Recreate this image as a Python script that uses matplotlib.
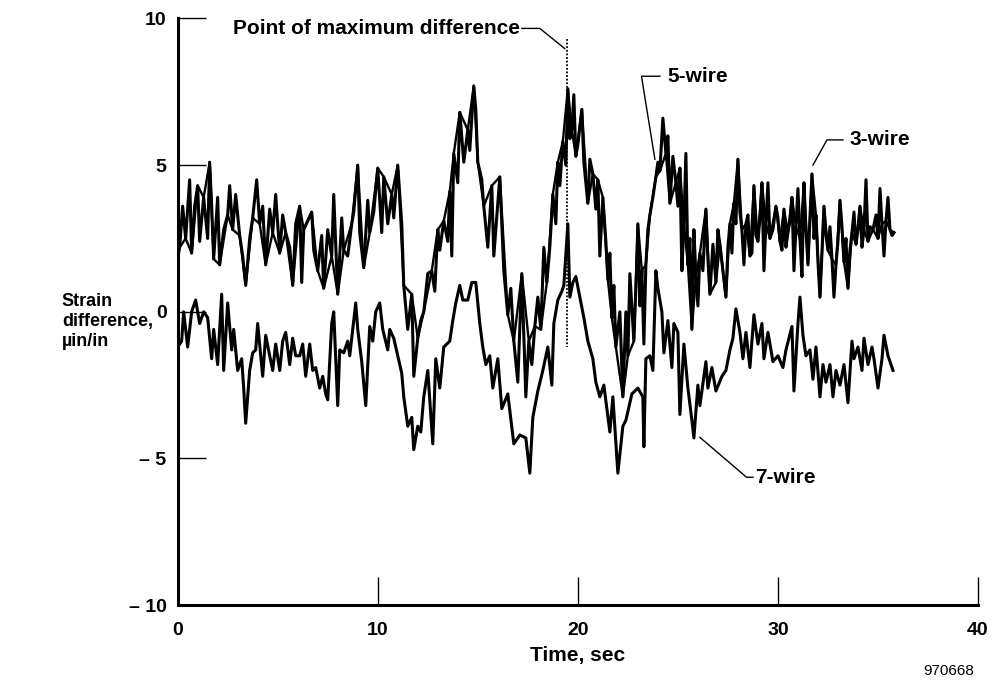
import numpy as np
import matplotlib.pyplot as plt

plt.rcParams['font.family'] = ['Liberation Sans', 'DejaVu Sans']
plt.rcParams['font.weight'] = 'bold'

# upper band, 3-wire trace (time s, strain difference)
t3 = [0.0, 0.1, 0.25, 0.4, 0.6, 0.7, 0.85, 1.0, 1.1, 1.3, 1.5, 1.6, 1.7, 1.8, 2.0, 2.1, 2.3, 2.5, 2.6, 2.75,
      2.9, 3.1, 3.25, 3.4, 3.6, 3.75, 3.95, 4.1, 4.25, 4.4, 4.6, 4.75, 4.9, 5.1, 5.25, 5.4, 5.6, 5.75, 5.9, 6.1,
      6.2, 6.3, 6.5, 6.7, 6.8, 7.0, 7.2, 7.3, 7.5, 7.7, 7.8, 8.0, 8.2, 8.3, 8.5, 8.7, 8.8, 9.0, 9.1, 9.3,
      9.5, 9.6, 9.8, 10.0, 10.2, 10.3, 10.5, 10.7, 10.8, 11.0, 11.2, 11.3, 11.5, 11.7, 11.8, 12.0, 12.15, 12.3, 12.5, 12.7,
      12.85, 13.0, 13.1, 13.3, 13.5, 13.6, 13.7, 13.8, 14.0, 14.1, 14.3, 14.5, 14.6, 14.8, 14.9, 15.0, 15.2, 15.3, 15.5, 15.7,
      15.8, 16.1, 16.3, 16.5, 16.65, 16.8, 17.0, 17.2, 17.4, 17.55, 17.7, 17.85, 18.0, 18.15, 18.3, 18.45, 18.6, 18.75, 18.9, 19.0,
      19.1, 19.25, 19.4, 19.5, 19.6, 19.7, 19.8, 19.9, 20.0, 20.2, 20.3, 20.5, 20.6, 20.75, 20.9, 21.0, 21.1, 21.25, 21.4, 21.5,
      21.6, 21.7, 21.8, 21.9, 22.1, 22.25, 22.4, 22.5, 22.6, 22.8, 22.9, 23.0, 23.1, 23.2, 23.3, 23.4, 23.5, 23.6, 23.75, 23.9,
      24.0, 24.1, 24.25, 24.4, 24.5, 24.6, 24.75, 24.9, 25.0, 25.1, 25.2, 25.3, 25.4, 25.5, 25.6, 25.7, 25.8, 25.9, 26.0, 26.1,
      26.25, 26.4, 26.5, 26.6, 26.75, 26.9, 27.0, 27.1, 27.25, 27.4, 27.5, 27.6, 27.7, 27.8, 27.9, 28.0, 28.1, 28.2, 28.3, 28.4,
      28.5, 28.6, 28.7, 28.8, 28.9, 29.0, 29.1, 29.2, 29.3, 29.4, 29.5, 29.6, 29.75, 29.9, 30.0, 30.1, 30.2, 30.3, 30.4, 30.5,
      30.6, 30.7, 30.8, 30.9, 31.0, 31.1, 31.2, 31.3, 31.4, 31.5, 31.6, 31.7, 31.8, 31.9, 32.0, 32.1, 32.2, 32.3, 32.4, 32.5,
      32.6, 32.7, 32.8, 32.9, 33.0, 33.1, 33.2, 33.3, 33.4, 33.5, 33.6, 33.7, 33.8, 33.9, 34.0, 34.1, 34.2, 34.3, 34.4, 34.5,
      34.6, 34.75, 34.9, 35.0, 35.1, 35.2, 35.3, 35.4, 35.5, 35.6, 35.7, 35.8]
v3 = [1.8, 2.2, 3.6, 2.5, 4.5, 2.0, 3.6, 4.3, 2.4, 3.9, 2.5, 5.1, 3.6, 1.8, 3.9, 1.6, 2.8, 3.3, 4.3, 2.8,
      4.0, 2.6, 1.9, 0.9, 2.5, 3.2, 4.5, 3.0, 3.6, 1.6, 3.5, 2.7, 4.0, 2.0, 3.3, 2.7, 2.2, 0.9, 3.0, 3.6,
      1.0, 2.8, 3.1, 3.4, 2.1, 1.4, 2.6, 0.8, 2.8, 1.9, 4.0, 0.6, 3.2, 2.1, 1.9, 3.0, 3.4, 5.0, 2.7, 1.5,
      3.8, 2.7, 3.4, 4.9, 2.7, 4.6, 3.0, 4.0, 3.2, 5.0, 3.0, 0.9, -0.6, 0.6, -2.2, -0.9, -0.3, 0.0, 1.3, 1.4,
      0.7, 2.8, 2.1, 3.1, 2.4, 4.1, 1.9, 5.4, 4.4, 6.8, 5.1, 6.2, 5.5, 7.7, 6.9, 5.1, 4.5, 3.6, 2.2, 4.3,
      1.9, 4.6, 1.4, -0.1, 0.8, -1.0, -2.4, 1.3, -2.9, -1.0, -1.8, -0.5, 0.5, -0.6, 2.2, 1.0, 2.2, 4.0, 3.0, 5.1,
      4.3, 5.8, 5.0, 7.6, 5.9, 6.2, 7.4, 5.3, 5.7, 6.9, 5.1, 3.7, 5.2, 4.7, 3.5, 4.5, 1.9, 3.9, 2.4, 1.1,
      2.0, -0.2, 0.9, -1.2, 0.0, -2.9, 0.0, -1.5, 1.3, -1.0, 0.8, 3.0, 0.2, 1.4, -1.1, 1.6, 2.8, 3.3, 3.9, 4.6,
      5.1, 4.8, 6.6, 5.4, 6.0, 3.7, 5.3, 4.4, 3.6, 4.9, 1.4, 3.0, 5.4, 1.6, 2.5, -0.6, 2.8, 1.2, 0.2, 2.0,
      1.4, 3.5, 1.8, 0.6, 2.3, 1.0, 2.8, 2.3, 1.4, 0.5, 2.2, 3.0, 2.0, 3.7, 3.0, 5.2, 3.4, 2.8, 1.6, 3.0,
      3.3, 1.9, 2.0, 4.3, 2.6, 2.4, 3.2, 4.4, 1.4, 3.0, 4.4, 2.5, 2.8, 3.6, 3.2, 2.4, 2.1, 3.5, 2.2, 2.7,
      3.1, 3.9, 1.4, 2.9, 4.2, 2.5, 1.2, 4.4, 2.8, 1.6, 3.2, 4.7, 2.5, 3.3, 1.7, 0.5, 2.0, 3.6, 2.6, 2.1,
      2.9, 1.8, 0.5, 1.6, 2.4, 3.8, 2.9, 1.7, 2.5, 0.8, 2.1, 2.7, 3.4, 2.3, 2.8, 3.6, 2.2, 2.8, 4.5, 2.4,
      2.9, 2.8, 3.3, 2.5, 4.2, 3.0, 1.9, 3.1, 3.9, 2.8, 2.6, 2.7]

# upper band, 5-wire trace (runs on top of the 3-wire trace)
t5 = [0.1, 0.4, 0.7, 1.0, 1.3, 1.6, 1.8, 2.1, 2.5, 2.75, 3.1, 3.4, 3.75, 4.1, 4.4, 4.75, 5.1, 5.4, 5.75, 6.1,
      6.3, 6.7, 7.0, 7.3, 7.7, 8.0, 8.3, 8.7, 9.0, 9.3, 9.6, 10.0, 10.3, 10.7, 11.0, 11.3, 11.7, 12.0, 12.3, 12.7,
      13.0, 13.3, 13.6, 13.8, 14.1, 14.5, 14.8, 15.0, 15.3, 15.7, 16.1, 16.5, 16.8, 17.2, 17.55, 17.85, 18.15,
      18.45, 18.75, 19.0, 19.25, 19.5, 19.7, 19.9, 20.2, 20.5, 20.75, 21.0, 21.25, 21.5, 21.7, 21.9, 22.25, 22.5,
      22.8, 23.0, 23.2, 23.4, 23.6, 23.9, 24.1, 24.4, 24.6, 24.9, 25.1, 25.3, 25.5, 25.7, 25.9, 26.1, 26.4, 26.6,
      26.9, 27.1, 27.4, 27.6, 27.8, 28.0, 28.2, 28.4, 28.6, 28.8, 29.0, 29.2, 29.4, 29.6, 29.9, 30.1, 30.3, 30.5,
      30.7, 30.9, 31.1, 31.3, 31.5, 31.7, 31.9, 32.1, 32.3, 32.5, 32.7, 32.9, 33.1, 33.3, 33.5, 33.7, 33.9, 34.1,
      34.3, 34.5, 34.75, 35.0, 35.2, 35.4, 35.6, 35.8]
v5 = [2.2, 2.5, 2.0, 4.3, 3.9, 5.1, 1.8, 1.6, 3.3, 2.8, 2.6, 0.9, 3.2, 3.0, 1.6, 2.7, 2.0, 2.7, 0.9, 3.6,
      2.8, 3.4, 1.4, 0.8, 1.9, 0.6, 2.1, 3.0, 5.0, 1.5, 2.7, 4.9, 4.6, 4.0, 5.0, 0.9, 0.6, -0.9, 0.0, 1.4,
      2.8, 3.1, 4.1, 5.4, 6.8, 6.2, 7.7, 5.1, 3.6, 4.3, 4.6, -0.1, -1.0, 1.3, -1.0, -0.5, -0.6,
      1.0, 4.0, 5.1, 5.8, 7.6, 6.2, 5.3, 6.9, 3.7, 4.7, 4.5, 3.9, 1.1, -0.2, -1.2, -2.9, -1.5,
      -1.0, 3.0, 1.4, 1.6, 3.3, 4.6, 4.8, 5.4, 3.7, 4.4, 4.9, 3.0, 1.6, -0.6, 1.2, 2.0, 3.5, 0.6,
      1.0, 2.3, 0.5, 3.0, 3.7, 5.2, 2.8, 3.0, 1.9, 4.3, 2.4, 4.4, 3.0, 2.5, 3.6, 2.4, 3.5, 2.7,
      3.9, 2.9, 2.5, 4.4, 1.6, 4.7, 3.3, 0.5, 3.6, 2.1, 1.8, 1.6, 3.8, 1.7, 0.8, 2.7, 2.3, 3.6,
      2.8, 2.4, 2.8, 2.5, 3.0, 3.1, 2.8, 2.7]

# lower band, 7-wire trace
t7 = [0.0, 0.2, 0.3, 0.5, 0.7, 0.9, 1.1, 1.3, 1.5, 1.7, 1.8, 2.0, 2.2, 2.3, 2.5, 2.7, 2.8, 3.0, 3.2, 3.3,
      3.4, 3.6, 3.75, 3.9, 4.0, 4.25, 4.4, 4.6, 4.75, 4.9, 5.1, 5.25, 5.4, 5.6, 5.75, 5.9, 6.1, 6.25, 6.4, 6.6,
      6.75, 6.9, 7.1, 7.25, 7.4, 7.5, 7.7, 7.8, 8.0, 8.1, 8.3, 8.5, 8.6, 8.9, 9.0, 9.2, 9.4, 9.6, 9.75, 9.9,
      10.1, 10.25, 10.5, 10.6, 10.8, 11.0, 11.2, 11.3, 11.5, 11.7, 11.8, 12.0, 12.15, 12.3, 12.5, 12.75, 12.9,
      13.1, 13.3, 13.6, 13.75, 13.9, 14.1, 14.25, 14.5, 14.7, 14.9, 15.1, 15.25, 15.4, 15.6, 15.75, 16.0, 16.2,
      16.5, 16.8, 17.1, 17.4, 17.6, 17.75, 18.0, 18.25, 18.5, 18.7, 18.8, 19.0, 19.2, 19.3, 19.5, 19.6, 19.75,
      19.9, 20.1, 20.3, 20.5, 20.75, 20.9, 21.1, 21.3, 21.6, 21.75, 22.0, 22.25, 22.4, 22.7, 23.0, 23.25, 23.3,
      23.4, 23.6, 23.75, 23.9, 24.0, 24.2, 24.3, 24.5, 24.7, 24.8, 25.0, 25.1, 25.3, 25.5, 25.7, 25.8, 26.0,
      26.1, 26.4, 26.5, 26.7, 26.9, 27.2, 27.4, 27.6, 27.75, 27.9, 28.1, 28.25, 28.4, 28.6, 28.8, 29.0, 29.2,
      29.3, 29.5, 29.75, 30.0, 30.25, 30.4, 30.7, 30.8, 31.0, 31.1, 31.25, 31.4, 31.6, 31.75, 31.9, 32.1, 32.25,
      32.4, 32.6, 32.75, 32.9, 33.1, 33.3, 33.5, 33.7, 33.8, 34.0, 34.2, 34.3, 34.5, 34.7, 34.8, 35.0, 35.2,
      35.3, 35.5, 35.75]
v7 = [-1.2, -1.0, 0.0, -1.2, 0.0, 0.4, -0.4, 0.0, -0.2, -1.6, -0.6, -1.8, 0.6, -2.0, 0.3, -1.3, -0.6, -2.0, -1.6, -2.6,
      -3.8, -2.0, -1.4, -1.3, -0.4, -2.2, -0.8, -1.5, -2.0, -1.1, -2.0, -1.0, -0.7, -1.8, -0.9, -1.5, -1.5, -1.1, -2.2, -1.1,
      -2.0, -1.9, -2.6, -2.2, -2.8, -3.0, -0.4, 0.0, -3.2, -1.3, -1.4, -1.0, -1.5, 0.3, -0.6, -1.7, -3.2, -0.5, -1.0, 0.0,
      0.3, -0.6, -1.3, -0.6, -0.9, -1.5, -2.1, -2.9, -3.9, -3.6, -4.7, -3.9, -4.1, -2.9, -2.0, -4.5, -1.6,
      -2.6, -1.2, -1.0, -0.3, 0.3, 0.9, 0.4, 0.4, 1.0, 1.0, -0.4, -1.2, -1.8, -1.5, -2.6, -1.6, -3.3,
      -2.8, -4.5, -4.2, -4.3, -5.5, -3.6, -2.7, -2.0, -1.2, -2.5, -0.4, 0.4, 0.7, 0.9, 3.0, 0.5, 1.0,
      1.2, 0.5, -0.2, -1.0, -1.6, -2.4, -2.9, -2.5, -4.1, -2.9, -5.5, -3.9, -3.7, -2.8, -2.6, -2.9, -4.6,
      -1.6, -1.5, -2.0, 1.4, 0.8, 0.0, -1.4, -0.3, -1.9, -0.4, -0.7, -3.5, -1.1, -2.6, -3.7, -4.3, -2.5,
      -3.2, -1.7, -2.6, -1.9, -2.7, -2.2, -2.0, -1.3, -0.9, 0.1, -0.7, -1.6, -0.7, -1.9, -0.1, -1.1, -0.4,
      -1.6, -0.7, -1.7, -1.5, -1.9, -1.3, -0.5, -2.7, -0.4, 0.5, -0.8, -1.5, -1.3, -2.3, -1.2, -2.9, -1.8,
      -2.4, -1.8, -2.9, -2.0, -2.5, -1.8, -3.1, -1.0, -1.6, -1.2, -2.0, -0.9, -1.8, -1.2, -1.6, -2.6, -1.6,
      -0.8, -1.5, -2.0]

x_ticks = [0, 10, 20, 30, 40]
y_ticks = [-10, -5, 0, 5, 10]
y_tick_labels = ['\u2013 10', '\u2013 5', '0', '5', '10']

t_max_diff = 19.45

fig = plt.figure(figsize=(9.98, 6.83), dpi=100)
ax = fig.add_axes([0.178, 0.114, 0.802, 0.859])

ax.plot(t3, v3, color='black', lw=2.2)
ax.plot(t5, v5, color='black', lw=1.7)
ax.plot(t7, v7, color='black', lw=2.2)

# point of maximum difference
ax.plot([t_max_diff, t_max_diff], [9.3, -1.2], color='black', lw=1.3, ls=(0, (1, 1)))
ax.plot([17.2, 18.1, 19.35], [9.66, 9.66, 8.97], color='black', lw=1)
ax.text(17.1, 9.66, 'Point of maximum difference', ha='right', va='center', fontsize=15)

# leaders to the trace labels
ax.plot([24.1, 23.18, 23.85], [8.03, 8.03, 5.2], color='black', lw=1)
ax.text(24.5, 8.03, '5-wire', ha='left', va='center', fontsize=15)
ax.plot([33.25, 32.45, 31.75], [5.86, 5.86, 5.0], color='black', lw=1)
ax.text(33.6, 5.86, '3-wire', ha='left', va='center', fontsize=15)
ax.plot([26.1, 28.43, 28.75], [-4.28, -5.64, -5.64], color='black', lw=1)
ax.text(28.85, -5.64, '7-wire', ha='left', va='center', fontsize=15)

ax.set_xlim(0, 40)
ax.set_ylim(-10, 10)
ax.set_xticks(x_ticks)
ax.set_yticks(y_ticks)
ax.set_yticklabels(y_tick_labels)
ax.spines['top'].set_visible(False)
ax.spines['right'].set_visible(False)
ax.spines['left'].set_linewidth(2.2)
ax.spines['bottom'].set_linewidth(2.2)
ax.tick_params(axis='both', direction='in', length=20, width=1, labelsize=14)
ax.tick_params(axis='x', pad=12)
ax.tick_params(axis='y', pad=8)

ax.set_xlabel('Time, sec', fontsize=15, fontweight='bold', labelpad=5)
fig.text(0.062, 0.529, 'Strain\ndifference,\n\u00b5in/in', ha='left', va='center', fontsize=13, linespacing=1.25)
fig.text(0.925, 0.008, '970668', ha='left', va='bottom', fontsize=11, weight='normal')

fig.savefig('out.png', dpi=100)
